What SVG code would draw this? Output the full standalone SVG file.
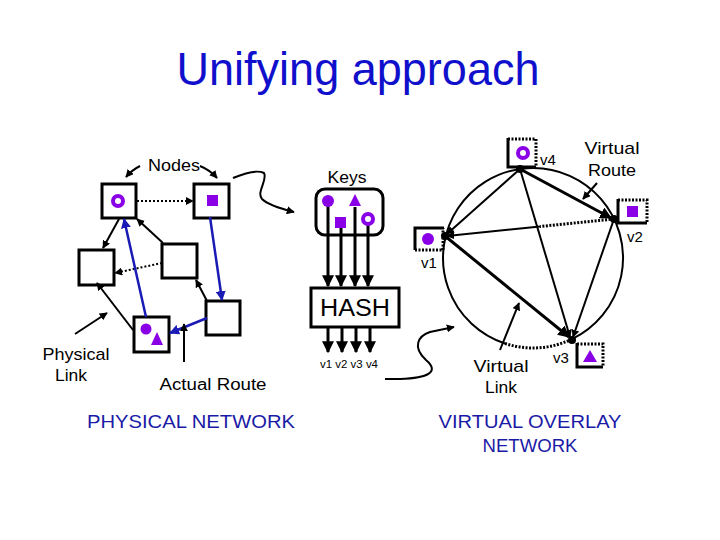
<svg xmlns="http://www.w3.org/2000/svg" width="720" height="540" viewBox="0 0 720 540">
<style>
text{font-family:"Liberation Sans","DejaVu Sans",sans-serif;fill:#000}
.t{fill:#1010cc}
.nb{fill:#fff;stroke:#000;stroke-width:3}
.ln{stroke:#000;stroke-width:2;fill:none}
.bl{stroke:#1a1ab4;stroke-width:2.5;fill:none}
.dot{stroke-dasharray:2 2}
.p{fill:#8a00e6}
.th{stroke:#000;stroke-width:3;fill:none}
.dl{stroke:#000;stroke-width:3;fill:none;stroke-dasharray:2 1.5}
</style>
<defs>
<marker id="ah" viewBox="0 0 10 10" refX="9" refY="5" markerWidth="4" markerHeight="4" orient="auto" markerUnits="strokeWidth"><path d="M0,0 L10,5 L0,10 Z" fill="#000"/></marker>
<marker id="ab" viewBox="0 0 10 10" refX="9" refY="5" markerWidth="4" markerHeight="4" orient="auto" markerUnits="strokeWidth"><path d="M0,0 L10,5 L0,10 Z" fill="#1a1ab4"/></marker>
</defs>
<rect width="720" height="540" fill="#fff"/>
<text class="t" x="358" y="85" font-size="46" text-anchor="middle" textLength="363" lengthAdjust="spacingAndGlyphs">Unifying approach</text>

<!-- physical network nodes -->
<g id="pA"><rect class="nb" x="102" y="184" width="34" height="34"/><circle class="p" cx="118" cy="201" r="7"/><circle cx="118" cy="201" r="3" fill="#fff"/></g>
<g id="pB"><rect class="nb" x="194" y="184" width="35" height="34"/><rect class="p" x="207" y="195" width="11" height="11"/></g>
<g id="pC"><rect class="nb" x="79" y="250" width="35" height="35"/></g>
<g id="pD"><rect class="nb" x="162" y="244" width="35" height="34"/></g>
<g id="pE"><rect class="nb" x="206" y="301" width="34" height="34"/></g>
<g id="pF"><rect class="nb" x="134" y="317" width="35" height="35"/><circle class="p" cx="146" cy="329" r="5.5"/><path class="p" d="M157,332 L151,345 L163,345 Z"/></g>

<g id="physical-connectors">
<path class="ln dot" d="M137,201 L193,201" marker-end="url(#ah)"/>
<path class="ln" d="M119,219 L103,248" marker-end="url(#ah)"/>
<path class="ln" d="M163,243 L137,219" marker-end="url(#ah)"/>
<path class="ln dot" d="M162,263 L115,273" marker-end="url(#ah)"/>
<path class="ln" d="M133,330 L97,283" marker-end="url(#ah)"/>
<path class="ln" d="M207,301 L196,280" marker-end="url(#ah)"/>
<path class="bl" d="M146,317 L124,219" marker-end="url(#ab)"/>
<path class="bl" d="M210,217 L222,300" marker-end="url(#ab)"/>
<path class="bl" d="M207,318 L170,333" marker-end="url(#ab)"/>
<path class="ln" d="M140,166 Q132,170 126,177" marker-end="url(#ah)"/>
<path class="ln" d="M200,166 Q210,170 217,178" marker-end="url(#ah)"/>
<path class="ln" d="M233,178 C245,173 258,170 264,173 C268,180 256,192 262,199 C268,205 282,209 294,212" marker-end="url(#ah)"/>
<path class="ln" d="M75,334 L107,313" marker-end="url(#ah)"/>
<path class="ln" d="M184,362 L184,324" marker-end="url(#ah)"/>
</g>

<text x="174" y="171" font-size="17" text-anchor="middle" textLength="52" lengthAdjust="spacingAndGlyphs">Nodes</text>
<text x="76" y="360" font-size="17" text-anchor="middle" textLength="67" lengthAdjust="spacingAndGlyphs">Physical</text>
<text x="71" y="381" font-size="17" text-anchor="middle" textLength="32" lengthAdjust="spacingAndGlyphs">Link</text>
<text x="213" y="390" font-size="16" text-anchor="middle" textLength="107" lengthAdjust="spacingAndGlyphs">Actual Route</text>
<text class="t" x="191" y="428" font-size="18" text-anchor="middle" textLength="208" lengthAdjust="spacingAndGlyphs" style="fill:#1a1aa6">PHYSICAL NETWORK</text>

<!-- keys and hash -->
<g id="keys">
<text x="347" y="183" font-size="16" text-anchor="middle" textLength="39" lengthAdjust="spacingAndGlyphs">Keys</text>
<rect x="316" y="189" width="67" height="46" rx="9" fill="#fff" stroke="#000" stroke-width="3"/>
</g>
<g id="key-arrows">
<path class="th" d="M328,201 L328,286" marker-end="url(#ah)"/>
<path class="th" d="M341,223 L341,286" marker-end="url(#ah)"/>
<path class="th" d="M355,207 L355,286" marker-end="url(#ah)"/>
<path class="th" d="M368,219 L368,286" marker-end="url(#ah)"/>
<path class="th" d="M328,327 L328,352" marker-end="url(#ah)"/>
<path class="th" d="M342,327 L342,352" marker-end="url(#ah)"/>
<path class="th" d="M356,327 L356,352" marker-end="url(#ah)"/>
<path class="th" d="M370,327 L370,352" marker-end="url(#ah)"/>
</g>
<g id="key-shapes">
<circle class="p" cx="328" cy="201" r="6"/>
<path class="p" d="M355,194 L349,206 L361,206 Z"/>
<rect class="p" x="335" y="217" width="11" height="11"/>
<circle class="p" cx="368" cy="219" r="7"/><circle cx="368" cy="219" r="3" fill="#fff"/>
</g>
<g id="hash">
<rect x="311" y="288" width="88" height="39" fill="#fff" stroke="#000" stroke-width="3"/>
<text x="355" y="316" font-size="23" text-anchor="middle" textLength="70" lengthAdjust="spacingAndGlyphs">HASH</text>
</g>
<text x="349" y="368" font-size="11" text-anchor="middle" textLength="58" lengthAdjust="spacingAndGlyphs">v1 v2 v3 v4</text>

<!-- virtual overlay -->
<g id="ring">
<path class="ln" d="M505,343.5 A90,90 0 1 1 572,339.1"/>
<path class="dl" d="M505,343.5 A90,90 0 0 0 572,339.1"/>
</g>
<g id="virtual-connectors">
<path class="ln" d="M520,169 L447,234" marker-end="url(#ah)"/>
<path class="th" d="M520,169 L611,218" marker-end="url(#ah)"/>
<path class="dl" d="M614,219 L540,226.5"/>
<path class="ln" d="M540,226.5 L447,236" marker-end="url(#ah)"/>
<path class="ln" d="M520,169 L570,337" marker-end="url(#ah)"/>
<path class="th" d="M445,236 L569,337" marker-end="url(#ah)"/>
<path class="ln" d="M614,219 L573,337" marker-end="url(#ah)"/>
<path class="ln" d="M597,183 L583,199" marker-end="url(#ah)"/>
<path class="ln" d="M500,350 L519,303" marker-end="url(#ah)"/>
<path class="ln" d="M385,379 L400,379 C428,378 440,372 426,360 C412,347 418,336 430,332 L454,327" marker-end="url(#ah)"/>
</g>
<g id="v4">
<path class="dl" d="M508,139 L536,139 L536,167"/><path class="th" d="M508,138 L508,167 L536,167"/>
<circle class="p" cx="523" cy="153" r="7"/><circle cx="523" cy="153" r="3" fill="#fff"/>
<circle cx="520" cy="169" r="4"/>
<text x="540" y="165" font-size="15">v4</text>
</g>
<g id="v2">
<path class="dl" d="M618,200 L647,200 L647,223"/><path class="th" d="M618,199 L618,223 L647,223"/>
<rect class="p" x="627" y="206" width="11" height="11"/>
<circle cx="614" cy="219" r="4"/>
<text x="627" y="242" font-size="15">v2</text>
</g>
<g id="v1">
<path class="dl" d="M415,250 L443,250 L443,228"/><path class="th" d="M444,228 L415,228 L415,250"/>
<circle class="p" cx="428" cy="239" r="6"/>
<circle cx="445" cy="236" r="4"/>
<text x="421" y="268" font-size="15">v1</text>
</g>
<g id="v3">
<path class="dl" d="M577,344 L603,344 L603,367"/><path class="th" d="M577,343 L577,367 L603,367"/>
<path class="p" d="M590,350 L583,362 L597,362 Z"/>
<circle cx="572" cy="340" r="4"/>
<text x="553" y="363" font-size="15">v3</text>
</g>
<text x="612" y="154" font-size="17" text-anchor="middle" textLength="55" lengthAdjust="spacingAndGlyphs">Virtual</text>
<text x="612" y="176" font-size="17" text-anchor="middle" textLength="48" lengthAdjust="spacingAndGlyphs">Route</text>
<text x="501" y="372" font-size="17" text-anchor="middle" textLength="55" lengthAdjust="spacingAndGlyphs">Virtual</text>
<text x="501" y="393" font-size="17" text-anchor="middle" textLength="32" lengthAdjust="spacingAndGlyphs">Link</text>
<text x="530" y="428" font-size="18" text-anchor="middle" textLength="183" lengthAdjust="spacingAndGlyphs" style="fill:#1a1aa6">VIRTUAL OVERLAY</text>
<text x="530" y="452" font-size="18" text-anchor="middle" textLength="95" lengthAdjust="spacingAndGlyphs" style="fill:#1a1aa6">NETWORK</text>
</svg>
